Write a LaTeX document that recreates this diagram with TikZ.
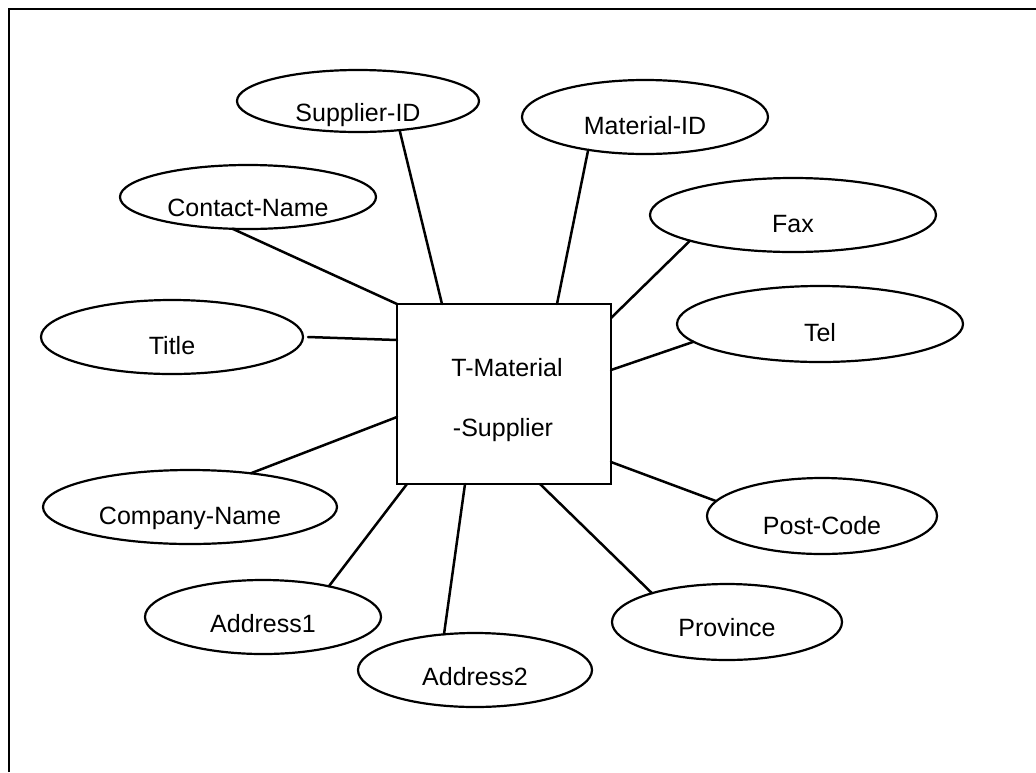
\documentclass[tikz,border=0pt]{standalone}
\usepackage{fontspec}
\setmainfont{Liberation Sans}
\usetikzlibrary{shapes.geometric}
\tikzset{
  attr/.style={ellipse, draw, line width=2.2pt, inner sep=0pt, outer sep=0pt},
  lbl/.style={inner sep=0pt, text height=18pt, text depth=0pt, font=\fontsize{25}{29}\selectfont},
  entbox/.style={rectangle, draw, line width=2.4pt, inner sep=0pt, outer sep=0pt, minimum width=214pt, minimum height=180pt},
  conn/.style={line width=2.5pt, line cap=round},
  frame/.style={line width=2.5pt}
}
\begin{document}
\begin{tikzpicture}[x=1pt, y=-1pt]
\useasboundingbox (0,0) rectangle (1036,772);
\draw[frame] (9,772) -- (9,9) -- (1036,9);

\node[entbox, label={[lbl, xshift=3pt, yshift=27pt]center:T-Material}, label={[lbl, xshift=-1pt, yshift=-33pt]center:-Supplier}] (box) at (504,394) {};

\node[attr, minimum width=242pt, minimum height=62pt, label={[lbl,yshift=-11pt]center:Supplier-ID}] (sup) at (358,101) {};
\node[attr, minimum width=246pt, minimum height=74pt, label={[lbl,yshift=-8pt]center:Material-ID}] (mat) at (645,117) {};
\node[attr, minimum width=256pt, minimum height=64pt, label={[lbl,yshift=-10pt]center:Contact-Name}] (con) at (248,197) {};
\node[attr, minimum width=286pt, minimum height=74pt, label={[lbl,yshift=-8pt]center:Fax}] (fax) at (793,215) {};
\node[attr, minimum width=262pt, minimum height=74pt, label={[lbl,yshift=-8pt]center:Title}] (tit) at (172,337) {};
\node[attr, minimum width=286pt, minimum height=76pt, label={[lbl,yshift=-8pt]center:Tel}] (tel) at (820,324) {};
\node[attr, minimum width=294pt, minimum height=74pt, label={[lbl,yshift=-8pt]center:Company-Name}] (com) at (190,507) {};
\node[attr, minimum width=230pt, minimum height=76pt, label={[lbl,yshift=-9pt]center:Post-Code}] (pos) at (822,516) {};
\node[attr, minimum width=236pt, minimum height=74pt, label={[lbl,yshift=-6pt]center:Address1}] (ad1) at (263,617) {};
\node[attr, minimum width=230pt, minimum height=76pt, label={[lbl,yshift=-5pt]center:Province}] (pro) at (727,622) {};
\node[attr, minimum width=234pt, minimum height=74pt, label={[lbl,yshift=-6pt]center:Address2}] (ad2) at (475,670) {};

\draw[conn] (con.-116) -- (box.north west);
\draw[conn] (sup.-35) -- ([xshift=45pt]box.north west);
\draw[conn] (mat.-150) -- ([xshift=160pt]box.north west);
\draw[conn] (fax.-166) -- ([yshift=-14pt]box.north east);
\draw[conn] (tel.-172) -- ([yshift=-66pt]box.north east);
\draw[conn] ([xshift=5pt]tit.east) -- ([yshift=-36pt]box.north west);
\draw[conn] (com.29) -- ([yshift=-113pt]box.north west);
\draw[conn] (ad1.25) -- ([xshift=10pt]box.south west);
\draw[conn] (ad2.131) -- ([xshift=68pt]box.south west);
\draw[conn] (pro.159) -- ([xshift=143pt]box.south west);
\draw[conn] (pos.172) -- ([yshift=22pt]box.south east);
\end{tikzpicture}
\end{document}
